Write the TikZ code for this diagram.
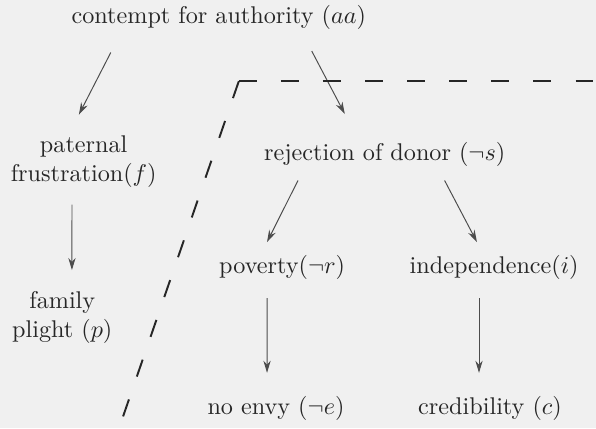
\documentclass[tikz,border=0pt]{standalone}
\usepackage{amsmath, amssymb}
\usepackage{tikz}
\usetikzlibrary{arrows.meta, positioning}

\tikzset{
	label/.style={inner sep=0pt, text=black!85},
	twoline/.style={label, align=center, anchor=west},
	arr/.style={-{Stealth[length=5pt,width=3pt]}, black!70, line width=0.4pt},
	boundary/.style={line width=0.8pt, black!85, dash pattern=on 7.4pt off 10pt}
}

\begin{document}
\begin{tikzpicture}
		% Fix the size of the page and paint the paper
		\useasboundingbox (0,0) rectangle (8.66,6.22);
		\fill[black!6] (0,0) rectangle (8.66,6.22);

		% Add the nodes for the claims
		\node[label] (aa) at (3.18,5.96) {contempt for authority ($aa$)};
		\node[twoline] (f) at (0.15,3.87) {paternal\\frustration($f$)};
		\node[twoline] (p) at (0.17,1.60) {family\\plight ($p$)};
		\node[label] (s) at (5.59,3.97) {rejection of donor ($\neg s$)};
		\node[label] (r) at (4.10,2.33) {poverty($\neg r$)};
		\node[label] (i) at (7.18,2.33) {independence($i$)};
		\node[label] (e) at (4.01,0.29) {no envy ($\neg e$)};
		\node[label] (c) at (7.12,0.29) {credibility ($c$)};

		% Draw the arrows between the claims
		\draw[arr] ([xshift=-1.57cm,yshift=-0.32cm]aa.south) -- ([xshift=-0.07cm,yshift=0.30cm]f.north);
		\draw[arr] ([xshift=1.35cm,yshift=-0.30cm]aa.south) -- ([xshift=-0.58cm,yshift=0.41cm]s.north);
		\draw[arr] ([xshift=-0.17cm,yshift=-0.24cm]f.south) -- ([xshift=0.14cm,yshift=0.31cm]p.north);
		\draw[arr] ([xshift=-1.26cm,yshift=-0.19cm]s.south) -- ([xshift=-0.22cm,yshift=0.19cm]r.north);
		\draw[arr] ([xshift=0.87cm,yshift=-0.19cm]s.south) -- ([xshift=-0.25cm,yshift=0.19cm]i.north);
		\draw[arr] ([xshift=-0.22cm,yshift=-0.26cm]r.south) -- ([xshift=-0.13cm,yshift=0.33cm]e.north);
		\draw[arr] ([xshift=-0.22cm,yshift=-0.26cm]i.south) -- ([xshift=-0.16cm,yshift=0.33cm]c.north);

		% Draw the dashed boundary
		\coordinate (corner) at (3.47,5.04);
		\coordinate (rightend) at (8.66,5.04);
		\coordinate (bottomend) at (1.73,0);
		\draw[boundary] (corner) -- (rightend);
		\draw[boundary] (corner) -- (bottomend);

	\end{tikzpicture}
\end{document}
